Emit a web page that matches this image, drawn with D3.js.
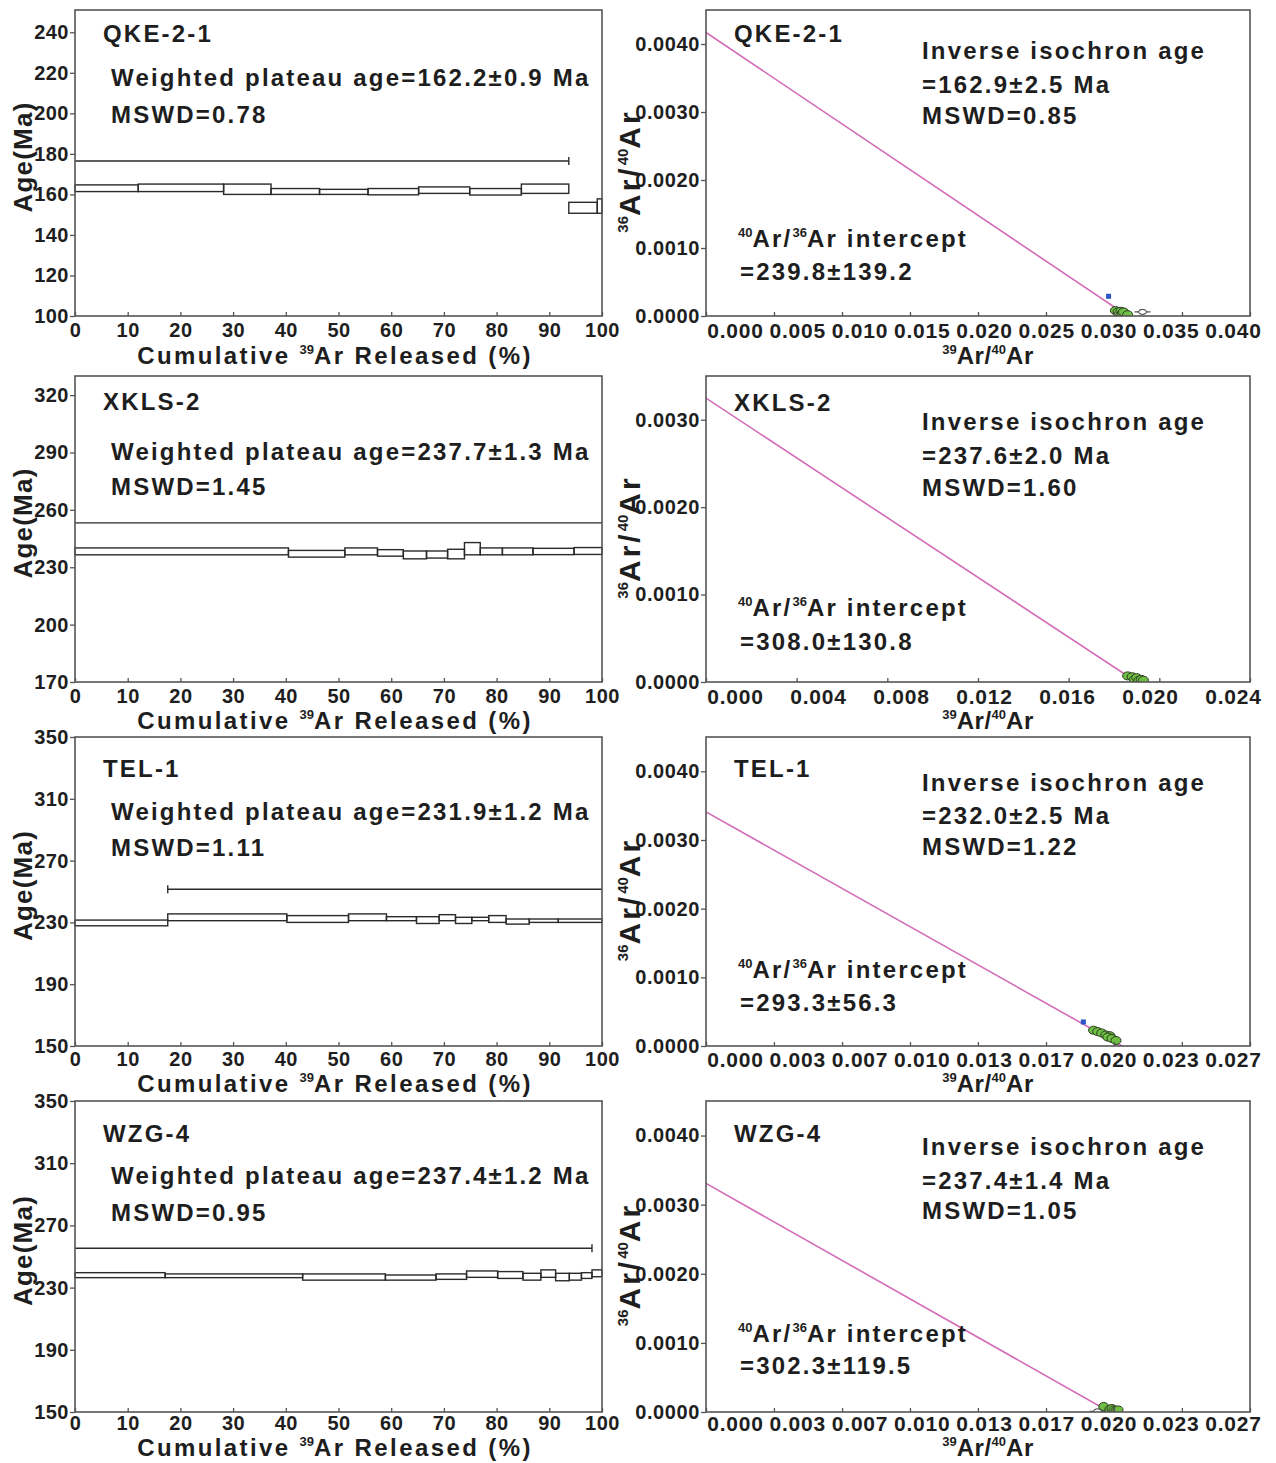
<!DOCTYPE html>
<html>
<head>
<meta charset="utf-8">
<script src="https://cdn.jsdelivr.net/npm/d3@7"></script>
<style>
  html, body { margin: 0; padding: 0; background: #fff; }
  svg text { font-family: "Liberation Sans", Arial, Helvetica, sans-serif; font-weight: bold; fill: #1e1e1e; }
</style>
</head>
<body>
<script>
// ---------- sample annotations ----------
const sampleNames   = ["QKE-2-1", "XKLS-2", "TEL-1", "WZG-4"];
const plateauAgeTxt = ["162.2±0.9", "237.7±1.3", "231.9±1.2", "237.4±1.2"];
const plateauMswd   = ["0.78", "1.45", "1.11", "0.95"];
const isoAgeTxt     = ["162.9±2.5", "237.6±2.0", "232.0±2.5", "237.4±1.4"];
const isoMswd       = ["0.85", "1.60", "1.22", "1.05"];
const interceptTxt  = ["239.8±139.2", "308.0±130.8", "293.3±56.3", "302.3±119.5"];

// ---------- age spectra (cumulative 39Ar %, step age limits in Ma) ----------
const qkeCum = [0, 12.0, 28.2, 37.2, 46.4, 55.6, 65.2, 74.9, 84.7, 93.7, 99.1, 100];
const qkeHi  = [164.7, 165.1, 165.1, 162.9, 162.5, 162.9, 163.7, 162.9, 165.1, 156.1, 157.8];
const qkeLo  = [161.4, 161.4, 160.0, 160.0, 160.0, 159.8, 160.5, 159.7, 160.5, 150.7, 150.7];

const xklsCum = [0, 40.5, 51.2, 57.4, 62.3, 66.7, 70.7, 73.9, 76.9, 81.1, 86.9, 94.7, 100];
const xklsHi  = [240.1, 238.8, 240.1, 239.2, 238.5, 238.5, 239.4, 242.9, 240.1, 240.1, 239.9, 240.3];
const xklsLo  = [236.5, 235.3, 236.5, 235.8, 234.4, 234.8, 234.4, 236.5, 236.5, 236.5, 236.6, 236.7];

const telCum = [0, 17.6, 40.2, 51.9, 59.1, 64.8, 69.1, 72.2, 75.3, 78.5, 81.8, 86.2, 91.7, 100];
const telHi  = [231.5, 235.5, 234.4, 235.5, 233.7, 233.7, 235.0, 233.3, 233.3, 234.4, 232.2, 232.2, 232.2];
const telLo  = [227.8, 231.1, 230.0, 231.1, 231.1, 229.3, 231.1, 229.3, 231.1, 230.0, 228.9, 230.0, 230.0];

const wzgCum = [0, 17.1, 43.2, 58.9, 68.5, 74.3, 80.2, 85.0, 88.4, 91.2, 93.8, 96.1, 98.1, 100];
const wzgHi  = [239.6, 238.8, 238.8, 238.1, 238.8, 240.7, 240.3, 239.2, 241.4, 239.2, 239.2, 239.6, 241.4];
const wzgLo  = [236.4, 236.4, 234.8, 234.8, 235.3, 236.6, 235.9, 234.8, 236.6, 234.4, 234.8, 235.9, 237.0];

const spectraCum = [qkeCum, xklsCum, telCum, wzgCum];
const spectraHi  = [qkeHi, xklsHi, telHi, wzgHi];
const spectraLo  = [qkeLo, xklsLo, telLo, wzgLo];

// plateau bracket: age level and extent in cumulative %
const plateauBarAge  = [176.5, 253.2, 251.5, 255.3];
const plateauBarFrom = [0, 0, 17.6, 0];
const plateauBarTo   = [93.7, 100, 100, 98.1];

// age axes
const ageDomains = [[100, 251], [170, 330], [150, 350], [150, 350]];
const ageTicks = [
  [100, 120, 140, 160, 180, 200, 220, 240],
  [170, 200, 230, 260, 290, 320],
  [150, 190, 230, 270, 310, 350],
  [150, 190, 230, 270, 310, 350]
];
const cumTicks = [0, 10, 20, 30, 40, 50, 60, 70, 80, 90, 100];

// ---------- inverse isochrons ----------
const isoXDomains = [[0, 0.040], [0, 0.024], [0, 0.02667], [0, 0.02667]];
const isoYDomains = [[0, 0.0045], [0, 0.0035], [0, 0.0045], [0, 0.0045]];
const isoXTicks = [
  [0, 0.005, 0.010, 0.015, 0.020, 0.025, 0.030, 0.035, 0.040],
  [0, 0.004, 0.008, 0.012, 0.016, 0.020, 0.024],
  [0, 0.00333, 0.00667, 0.010, 0.01333, 0.01667, 0.020, 0.02333, 0.02667],
  [0, 0.00333, 0.00667, 0.010, 0.01333, 0.01667, 0.020, 0.02333, 0.02667]
];
const isoYTicks = [
  [0, 0.001, 0.002, 0.003, 0.004],
  [0, 0.001, 0.002, 0.003],
  [0, 0.001, 0.002, 0.003, 0.004],
  [0, 0.001, 0.002, 0.003, 0.004]
];
// regression: 40Ar/36Ar intercept and 39Ar/40Ar intercept
const trappedRatio = [239.8, 308.0, 293.3, 302.3];
const xIntercepts  = [0.0310, 0.0190, 0.0204, 0.0198];

// plateau steps (green), excluded steps (blue), open steps [39Ar/40Ar, 36Ar/40Ar]
const isoGreenX = [
  [0.0301, 0.0303, 0.0305, 0.0306, 0.0308, 0.0309, 0.0307, 0.0310],
  [0.0186, 0.0188, 0.0189, 0.0190, 0.0191, 0.0192, 0.0193],
  [0.0190, 0.0192, 0.0194, 0.0196, 0.0198, 0.0197, 0.0199, 0.0201],
  [0.0195, 0.0198, 0.0199, 0.0200, 0.0201, 0.0202]
];
const isoGreenY = [
  [0.00008, 0.00006, 0.00007, 0.00004, 0.00003, 0.00002, 0.00006, 0.00002],
  [0.00007, 0.00006, 0.00003, 0.00005, 0.00002, 0.00003, 0.00002],
  [0.00023, 0.00021, 0.00019, 0.00016, 0.00015, 0.00013, 0.00011, 0.00008],
  [0.00008, 0.00004, 0.00005, 0.00003, 0.00002, 0.00003]
];
const isoBlueX = [[0.0296], [], [0.0185], []];
const isoBlueY = [[0.00029], [], [0.00035], []];
const isoOpenX = [[0.0321], [], [], [0.0192]];
const isoOpenY = [[0.00006], [], [], [0.00001]];

// ---------- layout ----------
const W = 1276, H = 1463;
const rowTop    = [10, 376, 737, 1101];
const rowBottom = [316, 682, 1046, 1412];
const leftX  = [75, 602];
const rightX = [706, 1250];
// text centre offsets below each panel top
const leftTextY  = [[23, 67, 104], [25, 75, 110], [31, 74, 110], [32, 74, 111]];
const rightTextY = [[23, 40, 74, 105, 228, 261], [26, 45, 79, 111, 231, 265],
                    [31, 45, 78, 109, 232, 265], [32, 45, 79, 109, 232, 264]];
// tick-label padding and axis-title centre offset below each panel bottom
const tickPad  = [7, 7, 6, 4];
const titleGap = [39, 38, 37, 35];

const svg = d3.select("body").append("svg")
  .attr("width", W).attr("height", H)
  .attr("viewBox", `0 0 ${W} ${H}`);

const INK = "#2a2a2a";
const FRAME = "#555";

// text made of plain and raised pieces: [[str, isSup], ...]
function richText(g, x, y, parts, opts = {}) {
  const size = opts.size || 24;
  const supSize = opts.supSize || 13;
  const t = g.append("text")
    .attr("x", x).attr("y", y)
    .attr("font-size", size)
    .attr("letter-spacing", opts.spacing != null ? opts.spacing : 2.2)
    .attr("text-anchor", opts.anchor || "start");
  if (opts.transform) t.attr("transform", opts.transform);
  let raised = false;
  parts.forEach(([s, sup]) => {
    const ts = t.append("tspan").text(s);
    if (sup && !raised) { ts.attr("dy", -size * 0.4).attr("font-size", supSize).attr("letter-spacing", 0); raised = true; }
    else if (sup) { ts.attr("font-size", supSize).attr("letter-spacing", 0); }
    else if (!sup && raised) { ts.attr("dy", size * 0.4); raised = false; }
  });
  return t;
}

function styleAxis(g, size, spacing) {
  g.select(".domain").remove();
  g.selectAll(".tick line").attr("stroke", FRAME).attr("stroke-width", 1.3);
  g.selectAll(".tick text")
    .attr("font-size", size)
    .attr("letter-spacing", spacing)
    .attr("fill", "#1e1e1e")
    .style("font-family", '"Liberation Sans", Arial, sans-serif')
    .style("font-weight", "bold");
}

for (let r = 0; r < 4; r++) {
  const top = rowTop[r], bot = rowBottom[r];

  // ===== age spectrum =====
  const gL = svg.append("g");
  const x = d3.scaleLinear().domain([0, 100]).range(leftX);
  const y = d3.scaleLinear().domain(ageDomains[r]).range([bot, top]);

  const steps = spectraHi[r].map((hi, i) => ({
    x0: spectraCum[r][i], x1: spectraCum[r][i + 1], hi, lo: spectraLo[r][i]
  }));
  gL.append("g").selectAll("rect").data(steps).join("rect")
    .attr("x", d => x(d.x0)).attr("width", d => x(d.x1) - x(d.x0))
    .attr("y", d => y(d.hi)).attr("height", d => y(d.lo) - y(d.hi))
    .attr("fill", "none").attr("stroke", INK).attr("stroke-width", 1.4);

  // plateau bracket
  const pb = gL.append("g").attr("stroke", INK).attr("stroke-width", 1.4);
  const py = y(plateauBarAge[r]);
  pb.append("line").attr("x1", x(plateauBarFrom[r])).attr("x2", x(plateauBarTo[r]))
    .attr("y1", py).attr("y2", py);
  [plateauBarFrom[r], plateauBarTo[r]].forEach(v => {
    if (v > 0 && v < 100) pb.append("line").attr("x1", x(v)).attr("x2", x(v))
      .attr("y1", py - 4).attr("y2", py + 4);
  });

  gL.append("rect").attr("x", leftX[0]).attr("y", top)
    .attr("width", leftX[1] - leftX[0]).attr("height", bot - top)
    .attr("fill", "none").attr("stroke", FRAME).attr("stroke-width", 1.6);

  const ay = gL.append("g").attr("transform", `translate(${leftX[0]},0)`)
    .call(d3.axisLeft(y).tickValues(ageTicks[r]).tickSize(5).tickPadding(1));
  styleAxis(ay, 20, 0.5);
  const ax = gL.append("g").attr("transform", `translate(0,${bot})`)
    .call(d3.axisBottom(x).tickValues(cumTicks).tickSize(-4).tickPadding(tickPad[r]));
  styleAxis(ax, 20, 0.5);

  const lt = leftTextY[r];
  richText(gL, 103, top + lt[0] + 8.6, [[sampleNames[r], false]]);
  richText(gL, 111, top + lt[1] + 8.6, [["Weighted plateau age=" + plateauAgeTxt[r] + " Ma", false]]);
  richText(gL, 111, top + lt[2] + 8.6, [["MSWD=" + plateauMswd[r], false]]);

  richText(gL, 32, (top + bot) / 2 - 6, [["Age(Ma)", false]],
    { size: 26, spacing: 1.2, anchor: "middle", transform: `rotate(-90,32,${(top + bot) / 2 - 6})` });
  richText(gL, 335, bot + titleGap[r] + 8.6, [["Cumulative ", false], ["39", true], ["Ar Released (%)", false]],
    { anchor: "middle", spacing: 2.4 });

  // ===== inverse isochron =====
  const gR = svg.append("g");
  const xi = d3.scaleLinear().domain(isoXDomains[r]).range(rightX);
  const yi = d3.scaleLinear().domain(isoYDomains[r]).range([bot, top]);
  // tick labels are laid out on a slightly narrower, right-shifted track
  const xLab = d3.scaleLinear().domain(isoXDomains[r]).range([rightX[0] + 29, rightX[1] - 17]);

  const clipId = "clip" + r;
  gR.append("clipPath").attr("id", clipId).append("rect")
    .attr("x", rightX[0]).attr("y", top).attr("width", rightX[1] - rightX[0]).attr("height", bot - top);

  const regression = [[0, 1 / trappedRatio[r]], [xIntercepts[r], 0]];
  gR.append("path").datum(regression)
    .attr("clip-path", `url(#${clipId})`)
    .attr("d", d3.line().x(d => xi(d[0])).y(d => yi(d[1])))
    .attr("fill", "none").attr("stroke", "#d46bb8").attr("stroke-width", 1.6);

  const pts = gR.append("g").attr("clip-path", `url(#${clipId})`);
  // open (rejected) step with horizontal error
  isoOpenX[r].forEach((v, i) => {
    const cx = xi(v), cy = yi(isoOpenY[r][i]);
    pts.append("line").attr("x1", cx - 8).attr("x2", cx + 8).attr("y1", cy).attr("y2", cy)
      .attr("stroke", INK).attr("stroke-width", 1);
    pts.append("ellipse").attr("cx", cx).attr("cy", cy).attr("rx", 4).attr("ry", 2.5)
      .attr("fill", "#fff").attr("stroke", INK).attr("stroke-width", 1);
  });
  pts.selectAll("rect.blue").data(isoBlueX[r].map((v, i) => [v, isoBlueY[r][i]])).join("rect")
    .attr("class", "blue")
    .attr("x", d => xi(d[0]) - 2.5).attr("y", d => yi(d[1]) - 2.5)
    .attr("width", 5).attr("height", 5).attr("fill", "#2a56c8");
  pts.selectAll("ellipse.green").data(isoGreenX[r].map((v, i) => [v, isoGreenY[r][i]])).join("ellipse")
    .attr("class", "green")
    .attr("cx", d => xi(d[0])).attr("cy", d => yi(d[1]))
    .attr("rx", 5).attr("ry", 4)
    .attr("fill", "#6fbf44").attr("stroke", "#2d3a22").attr("stroke-width", 1);

  gR.append("rect").attr("x", rightX[0]).attr("y", top)
    .attr("width", rightX[1] - rightX[0]).attr("height", bot - top)
    .attr("fill", "none").attr("stroke", FRAME).attr("stroke-width", 1.6);

  const fmtX = d3.format(".3f"), fmtY = d3.format(".4f");
  const ayi = gR.append("g").attr("transform", `translate(${rightX[0]},0)`)
    .call(d3.axisLeft(yi).tickValues(isoYTicks[r]).tickFormat(fmtY).tickSize(5).tickPadding(1));
  styleAxis(ayi, 20, 0.6);
  const axi = gR.append("g").attr("transform", `translate(0,${bot})`)
    .call(d3.axisBottom(xi).tickValues(isoXTicks[r]).tickFormat(fmtX).tickSize(-4).tickPadding(tickPad[r]));
  styleAxis(axi, 21, 0.8);
  axi.selectAll(".tick text").attr("x", d => xLab(d) - xi(d));

  const rt = rightTextY[r];
  richText(gR, 734, top + rt[0] + 8.6, [[sampleNames[r], false]]);
  richText(gR, 922, top + rt[1] + 8.6, [["Inverse isochron age", false]]);
  richText(gR, 922, top + rt[2] + 8.6, [["=" + isoAgeTxt[r] + " Ma", false]]);
  richText(gR, 922, top + rt[3] + 8.6, [["MSWD=" + isoMswd[r], false]]);
  richText(gR, 738, top + rt[4] + 8.6, [["40", true], ["Ar/", false], ["36", true], ["Ar intercept", false]]);
  richText(gR, 740, top + rt[5] + 8.6, [["=" + interceptTxt[r], false]]);

  const ymid = (top + bot) / 2 + 8;
  richText(gR, 640, ymid, [["36", true], ["Ar/", false], ["40", true], ["Ar", false]],
    { size: 30, supSize: 15, spacing: 3, anchor: "middle", transform: `rotate(-90,640,${ymid})` });
  richText(gR, 988, bot + titleGap[r] + 8.6, [["39", true], ["Ar/", false], ["40", true], ["Ar", false]],
    { anchor: "middle", spacing: 0.5 });
}
</script>
</body>
</html>
